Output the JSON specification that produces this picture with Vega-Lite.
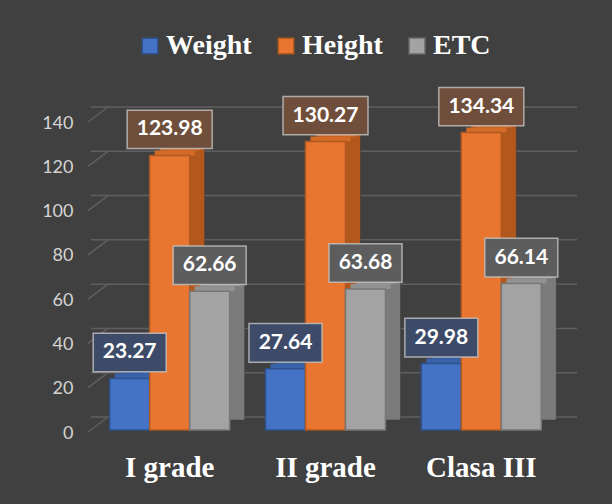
{
  "$schema": "https://vega.github.io/schema/vega-lite/v6.json",
  "width": 469,
  "height": 310,
  "autosize": {"type": "none"},
  "padding": {"left": 91, "top": 120, "right": 52, "bottom": 74},
  "background": "#404040",
  "config": {
    "view": {"stroke": null},
    "axisX": {
      "domain": false, "ticks": false, "grid": false,
      "labelFont": "Liberation Serif", "labelFontSize": 29, "labelFontWeight": "bold",
      "labelColor": "#ffffff", "labelPadding": 23, "labelAngle": 0
    },
    "axisY": {
      "domain": false, "ticks": false, "grid": false,
      "labelFont": "Lato", "labelFontSize": 18, "labelColor": "#d4d4d4",
      "labelPadding": 18, "labelOffset": 3
    }
  },
  "resolve": {"scale": {"xOffset": "independent"}},
  "datasets": {
    "scores": [
      {"grade": "I grade", "series": "Weight", "value": 23.27},
      {"grade": "I grade", "series": "Height", "value": 123.98},
      {"grade": "I grade", "series": "ETC", "value": 62.66},
      {"grade": "II grade", "series": "Weight", "value": 27.64},
      {"grade": "II grade", "series": "Height", "value": 130.27},
      {"grade": "II grade", "series": "ETC", "value": 63.68},
      {"grade": "Clasa III", "series": "Weight", "value": 29.98},
      {"grade": "Clasa III", "series": "Height", "value": 134.34},
      {"grade": "Clasa III", "series": "ETC", "value": 66.14}
    ],
    "gridTicks": [
      {"tick": 0}, {"tick": 20}, {"tick": 40}, {"tick": 60},
      {"tick": 80}, {"tick": 100}, {"tick": 120}, {"tick": 140}
    ]
  },
  "layer": [
    {
      "data": {"name": "gridTicks"},
      "mark": {"type": "rule", "color": "#5f5f5f", "strokeWidth": 1.5,
               "xOffset": 17, "x2Offset": 17, "yOffset": -13, "y2Offset": -13},
      "encoding": {
        "y": {"field": "tick", "type": "quantitative", "title": null,
              "scale": {"domain": [0, 140], "nice": false, "zero": true},
              "axis": {"values": [0, 20, 40, 60, 80, 100, 120, 140]}}
      }
    },
    {
      "data": {"name": "gridTicks"},
      "mark": {"type": "rule", "color": "#5f5f5f", "strokeWidth": 1.5,
               "xOffset": -3, "x2Offset": 17, "yOffset": 2, "y2Offset": -13},
      "encoding": {
        "y": {"field": "tick", "type": "quantitative", "title": null},
        "y2": {"field": "tick"},
        "x": {"value": 0},
        "x2": {"value": 0}
      }
    },
    {
      "data": {"name": "scores"},
      "mark": {"type": "bar", "yOffset": -10, "y2Offset": -10, "stroke": "#3a3a3a", "strokeOpacity": 0.5, "strokeWidth": 1},
      "encoding": {
        "x": {"field": "grade", "type": "nominal", "sort": null, "title": null},
        "xOffset": {"field": "series", "type": "nominal", "sort": ["Weight", "Height", "ETC"],
                    "scale": {"type": "band", "range": [15, 135], "paddingInner": 0, "paddingOuter": 0}},
        "y": {"field": "value", "type": "quantitative", "title": null},
        "fill": {
          "condition": [
            {"test": "datum.series === 'Weight'", "value": "#2d4e8c"},
            {"test": "datum.series === 'Height'", "value": "#b3581c"}
          ],
          "value": "#7b7b7b"
        }
      }
    },
    {
      "data": {"name": "scores"},
      "mark": {"type": "bar", "yOffset": -10, "y2Offset": -5},
      "encoding": {
        "x": {"field": "grade", "type": "nominal", "sort": null, "title": null},
        "xOffset": {"field": "series", "type": "nominal", "sort": ["Weight", "Height", "ETC"],
                    "scale": {"type": "band", "range": [10, 130], "paddingInner": 0, "paddingOuter": 0}},
        "y": {"field": "value", "type": "quantitative", "title": null},
        "y2": {"field": "value"},
        "fill": {
          "condition": [
            {"test": "datum.series === 'Weight'", "value": "#3a62a8"},
            {"test": "datum.series === 'Height'", "value": "#d46b26"}
          ],
          "value": "#929292"
        }
      }
    },
    {
      "data": {"name": "scores"},
      "mark": {"type": "bar", "yOffset": -5, "y2Offset": 0},
      "encoding": {
        "x": {"field": "grade", "type": "nominal", "sort": null, "title": null},
        "xOffset": {"field": "series", "type": "nominal", "sort": ["Weight", "Height", "ETC"],
                    "scale": {"type": "band", "range": [5, 125], "paddingInner": 0, "paddingOuter": 0}},
        "y": {"field": "value", "type": "quantitative", "title": null},
        "y2": {"field": "value"},
        "fill": {
          "condition": [
            {"test": "datum.series === 'Weight'", "value": "#3a62a8"},
            {"test": "datum.series === 'Height'", "value": "#d46b26"}
          ],
          "value": "#929292"
        }
      }
    },
    {
      "data": {"name": "scores"},
      "mark": {"type": "bar", "strokeWidth": 1.5},
      "encoding": {
        "x": {"field": "grade", "type": "nominal", "sort": null, "title": null,
              "scale": {"paddingInner": 0.23, "paddingOuter": 0.12}},
        "xOffset": {"field": "series", "type": "nominal", "sort": ["Weight", "Height", "ETC"],
                    "scale": {"type": "band", "paddingInner": 0, "paddingOuter": 0}},
        "y": {"field": "value", "type": "quantitative", "title": null},
        "fill": {
          "field": "series", "type": "nominal", "title": null,
          "scale": {"domain": ["Weight", "Height", "ETC"], "range": ["#4472c4", "#e87630", "#a3a3a3"]},
          "legend": {
            "orient": "none", "legendX": 45, "legendY": -88, "direction": "horizontal",
            "labelFont": "Liberation Serif", "labelFontSize": 28, "labelFontWeight": "bold",
            "labelColor": "#ffffff", "symbolType": "square", "symbolSize": 240,
            "symbolStrokeWidth": 1.5, "columnPadding": 20, "labelOffset": 2
          }
        },
        "stroke": {
          "field": "series", "type": "nominal", "title": null,
          "scale": {"domain": ["Weight", "Height", "ETC"], "range": ["#2f528f", "#ae5a21", "#777777"]},
          "legend": {
            "orient": "none", "legendX": 45, "legendY": -88, "direction": "horizontal",
            "labelFont": "Liberation Serif", "labelFontSize": 28, "labelFontWeight": "bold",
            "labelColor": "#ffffff", "symbolType": "square", "symbolSize": 240,
            "symbolStrokeWidth": 1.5, "columnPadding": 20, "labelOffset": 2
          }
        }
      }
    },
    {
      "data": {"name": "scores"},
      "mark": {"type": "point", "filled": true, "stroke": "#c4c4c4", "strokeOpacity": 0.8,
               "strokeWidth": 1.5, "opacity": 1, "yOffset": -26},
      "encoding": {
        "x": {"field": "grade", "type": "nominal", "sort": null, "title": null},
        "xOffset": {"field": "series", "type": "nominal", "sort": ["Weight", "Height", "ETC"],
                    "scale": {"type": "band", "paddingInner": 0, "paddingOuter": 0}},
        "y": {"field": "value", "type": "quantitative", "title": null},
        "shape": {
          "condition": {"test": "datum.value >= 100", "value": "M-1,-0.45H1V0.45H-1Z"},
          "value": "M-1,-0.53H1V0.53H-1Z"
        },
        "size": {
          "condition": {"test": "datum.value >= 100", "value": 7225},
          "value": 5329
        },
        "fill": {
          "condition": [
            {"test": "datum.series === 'Weight'", "value": "#3d4b69"},
            {"test": "datum.series === 'Height'", "value": "#6f4f3b"}
          ],
          "value": "#5d5d5d"
        }
      }
    },
    {
      "data": {"name": "scores"},
      "mark": {"type": "text", "font": "Lato", "fontWeight": "bold", "fontSize": 21,
               "color": "#ffffff", "baseline": "middle", "align": "center", "yOffset": -26},
      "encoding": {
        "x": {"field": "grade", "type": "nominal", "sort": null, "title": null},
        "xOffset": {"field": "series", "type": "nominal", "sort": ["Weight", "Height", "ETC"],
                    "scale": {"type": "band", "paddingInner": 0, "paddingOuter": 0}},
        "y": {"field": "value", "type": "quantitative", "title": null},
        "text": {"field": "value", "type": "quantitative", "format": ".2f"}
      }
    }
  ]
}
